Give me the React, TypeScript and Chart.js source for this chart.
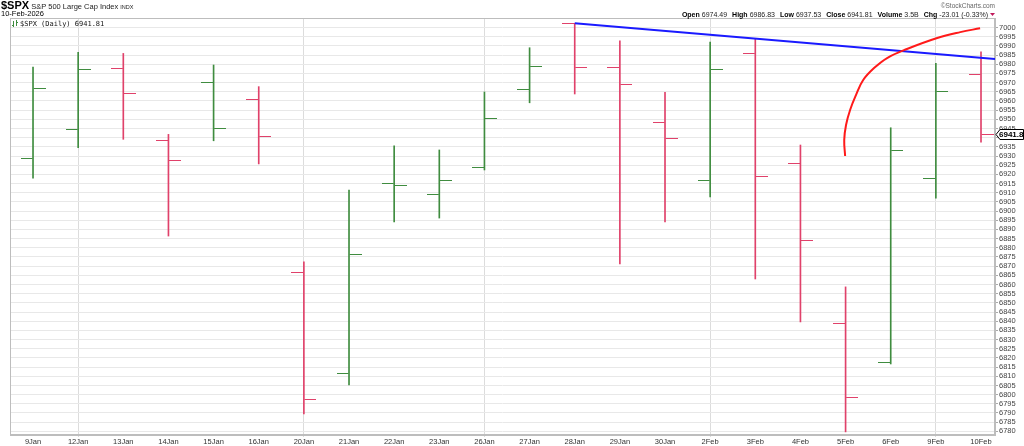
import React, { useEffect, useRef } from 'react';
import { Chart, registerables } from 'chart.js';

Chart.register(...registerables);

const dates = ['9Jan', '12Jan', '13Jan', '14Jan', '15Jan', '16Jan', '20Jan', '21Jan', '22Jan', '23Jan', '26Jan', '27Jan', '28Jan', '29Jan', '30Jan', '2Feb', '3Feb', '4Feb', '5Feb', '6Feb', '9Feb', '10Feb'];
const opens = [6928.8, 6944.6, 6977.8, 6938.3, 6969.9, 6960.9, 6866.8, 6811.3, 6915.3, 6908.8, 6924.0, 6966.3, 7002.0, 6978.3, 6948.0, 6916.9, 6985.6, 6925.7, 6838.5, 6817.3, 6917.9, 6974.49];
const highs = [6978.5, 6986.5, 6985.9, 6941.8, 6979.6, 6967.8, 6872.3, 6911.5, 6935.5, 6933.3, 6964.9, 6989.0, 7002.3, 6992.8, 6964.7, 6992.1, 6993.7, 6936.0, 6858.7, 6945.4, 6980.5, 6986.83];
const lows = [6918.0, 6934.5, 6939.1, 6886.4, 6938.3, 6925.7, 6789.5, 6805.3, 6894.1, 6896.2, 6922.4, 6959.0, 6963.8, 6871.2, 6894.1, 6907.7, 6863.0, 6839.6, 6779.7, 6816.7, 6907.0, 6937.53];
const closes = [6966.9, 6977.4, 6964.2, 6927.7, 6945.1, 6940.5, 6797.1, 6876.6, 6914.2, 6916.4, 6950.7, 6978.9, 6978.3, 6969.1, 6939.8, 6976.9, 6918.6, 6883.7, 6798.7, 6933.1, 6965.4, 6941.81];

const weekStarts = [1, 6, 10, 15, 20];
const yTicks = Array.from({ length: 45 }, (_, i) => 6780 + i * 5);

const trendX = [12, 21.31];
const trendY = [7002.3, 6982.8];

const arcX = [17.99, 17.97, 18.01, 18.1, 18.23, 18.39, 18.63, 18.92, 19.36, 20.03, 20.54, 20.98];
const arcY = [6930.0, 6938.7, 6946.9, 6955.1, 6963.2, 6971.4, 6977.9, 6983.4, 6988.3, 6994.3, 6997.5, 6999.6];

const lastPrice = 6941.81;
const headerSymbol = '$SPX';
const headerName = 'S&P 500 Large Cap Index';
const headerExchange = 'INDX';
const headerDate = '10-Feb-2026';
const headerLegend = '$SPX (Daily) 6941.81';
const headerCopyright = '\u00A9StockCharts.com';
const headerStats: [string, string][] = [
  ['Open', '6974.49'],
  ['High', '6986.83'],
  ['Low', '6937.53'],
  ['Close', '6941.81'],
  ['Volume', '3.5B'],
  ['Chg', '-23.01 (-0.33%)'],
];

const X_MIN = -0.51;
const X_MAX = 21.31;
const Y_MIN = 6778;
const Y_MAX = 7005.2;

const GREEN = '#3f8c3f';
const RED = '#e0416a';
const SANS = '"Liberation Sans", Arial, sans-serif';

function tickImage(color: string, left: boolean) {
  const c = document.createElement('canvas');
  c.width = 25;
  c.height = 1;
  const g = c.getContext('2d')!;
  g.fillStyle = color;
  if (left) g.fillRect(0, 0, 12, 1);
  else g.fillRect(13, 0, 12, 1);
  return c;
}

export default function App() {
  const ref = useRef<HTMLCanvasElement>(null);

  useEffect(() => {
    document.body.style.margin = '0';
    const canvas = ref.current!;
    const colors = closes.map((c, i) => (i === 0 || c >= closes[i - 1] ? GREEN : RED));
    const imgs: Record<string, { open: HTMLCanvasElement; close: HTMLCanvasElement }> = {
      [GREEN]: { open: tickImage(GREEN, true), close: tickImage(GREEN, false) },
      [RED]: { open: tickImage(RED, true), close: tickImage(RED, false) },
    };

    const overlay = {
      id: 'overlay',
      beforeDatasetsDraw(chart: any) {
        const { ctx, chartArea } = chart;
        ctx.save();
        ctx.strokeStyle = '#bdbdbd';
        ctx.lineWidth = 1;
        ctx.strokeRect(Math.round(chartArea.left) + 0.5, Math.round(chartArea.top) + 0.5, chartArea.right - chartArea.left - 1, chartArea.bottom - chartArea.top - 1);
        ctx.restore();
      },
      afterDraw(chart: any) {
        const { ctx, scales } = chart;
        ctx.save();
        ctx.textBaseline = 'alphabetic';
        ctx.fillStyle = '#000';
        // title
        ctx.font = `bold 11px ${SANS}`;
        ctx.fillText(headerSymbol, 1, 9);
        let x = 1 + ctx.measureText(headerSymbol).width + 2;
        ctx.font = `7.5px ${SANS}`;
        ctx.fillStyle = '#222';
        ctx.fillText(headerName, x, 9);
        x += ctx.measureText(headerName).width + 2;
        ctx.font = `5.5px ${SANS}`;
        ctx.fillText(headerExchange, x, 9);
        ctx.font = `7.5px ${SANS}`;
        ctx.fillStyle = '#000';
        ctx.fillText(headerDate, 1, 16);
        // legend in plot
        ctx.strokeStyle = GREEN;
        ctx.lineWidth = 1;
        ctx.beginPath();
        ctx.moveTo(13.5, 21); ctx.lineTo(13.5, 27);
        ctx.moveTo(12, 25.5); ctx.lineTo(13.5, 25.5);
        ctx.moveTo(16.5, 20); ctx.lineTo(16.5, 26);
        ctx.moveTo(16.5, 22.5); ctx.lineTo(18, 22.5);
        ctx.stroke();
        ctx.font = `7px "DejaVu Sans Mono", monospace`;
        ctx.fillStyle = '#111';
        ctx.fillText(headerLegend, 20, 26);
        // copyright
        ctx.font = `6.5px ${SANS}`;
        ctx.fillStyle = '#666';
        ctx.textAlign = 'right';
        ctx.fillText(headerCopyright, 995, 8);
        ctx.textAlign = 'left';
        // stats: lay out right-aligned ending before the arrow
        const parts: { t: string; bold: boolean; gap: number }[] = [];
        headerStats.forEach(([k, v]) => {
          parts.push({ t: k, bold: true, gap: 2 });
          parts.push({ t: v, bold: false, gap: 5 });
        });
        let total = 0;
        parts.forEach((p, i) => {
          ctx.font = `${p.bold ? 'bold ' : ''}7px ${SANS}`;
          total += ctx.measureText(p.t).width + (i < parts.length - 1 ? p.gap : 0);
        });
        let sx = 988 - total;
        parts.forEach((p) => {
          ctx.font = `${p.bold ? 'bold ' : ''}7px ${SANS}`;
          ctx.fillStyle = p.bold ? '#000' : '#222';
          ctx.fillText(p.t, sx, 17);
          sx += ctx.measureText(p.t).width + p.gap;
        });
        ctx.fillStyle = '#c0185a';
        ctx.beginPath();
        ctx.moveTo(990, 13);
        ctx.lineTo(995, 13);
        ctx.lineTo(992.5, 16);
        ctx.closePath();
        ctx.fill();
        // last price tag
        const y = Math.round(scales.y.getPixelForValue(lastPrice)) + 0.5;
        ctx.beginPath();
        ctx.moveTo(996, y);
        ctx.lineTo(1000, y - 5);
        ctx.lineTo(1023.5, y - 5);
        ctx.lineTo(1023.5, y + 5);
        ctx.lineTo(1000, y + 5);
        ctx.closePath();
        ctx.fillStyle = '#fff';
        ctx.fill();
        ctx.strokeStyle = '#000';
        ctx.lineWidth = 1;
        ctx.stroke();
        ctx.font = `bold 8px ${SANS}`;
        ctx.fillStyle = '#000';
        ctx.textBaseline = 'middle';
        ctx.fillText(lastPrice.toFixed(2), 999, y + 0.5);
        ctx.restore();
      },
    };

    const chart = new Chart(canvas, {
      type: 'bar',
      data: {
        datasets: [
          {
            type: 'bar',
            data: dates.map((_, i) => ({ x: i, y: [lows[i], highs[i]] })) as any,
            backgroundColor: colors,
            borderWidth: 0,
            barThickness: 1,
            grouped: false,
            order: 3,
          } as any,
          {
            type: 'line',
            data: dates.map((_, i) => ({ x: i, y: opens[i] })),
            showLine: false,
            pointStyle: colors.map((c) => imgs[c].open) as any,
            pointRadius: 6,
            order: 2,
          },
          {
            type: 'line',
            data: dates.map((_, i) => ({ x: i, y: closes[i] })),
            showLine: false,
            pointStyle: colors.map((c) => imgs[c].close) as any,
            pointRadius: 6,
            order: 2,
          },
          {
            type: 'line',
            data: trendX.map((x, i) => ({ x, y: trendY[i] })),
            borderColor: '#1a1aff',
            borderWidth: 2,
            pointRadius: 0,
            order: 1,
          },
          {
            type: 'line',
            data: arcX.map((x, i) => ({ x, y: arcY[i] })),
            borderColor: '#ff1a1a',
            borderWidth: 2,
            pointRadius: 0,
            tension: 0.4,
            order: 0,
          },
        ],
      },
      options: {
        responsive: false,
        animation: false,
        events: [],
        layout: { padding: { left: 10, top: 18, right: 0, bottom: 0 } },
        plugins: { legend: { display: false }, tooltip: { enabled: false } },
        scales: {
          x: {
            type: 'linear',
            offset: false,
            min: X_MIN,
            max: X_MAX,
            afterBuildTicks: (s: any) => {
              s.ticks = dates.map((_, i) => ({ value: i }));
            },
            afterFit: (s: any) => {
              s.height = 11;
            },
            ticks: {
              autoSkip: false,
              maxRotation: 0,
              padding: 1,
              color: '#333',
              font: { size: 7.5, family: SANS, lineHeight: 1 },
              callback: (v: any) => dates[v] ?? '',
            },
            grid: {
              offset: false,
              color: (c: any) => (c.tick && weekStarts.includes(c.tick.value) ? '#dcdcdc' : 'rgba(0,0,0,0)'),
              tickLength: 2,
            },
            border: { color: '#bdbdbd' },
          },
          y: {
            type: 'linear',
            position: 'right',
            min: Y_MIN,
            max: Y_MAX,
            afterBuildTicks: (s: any) => {
              s.ticks = yTicks.map((v) => ({ value: v }));
            },
            afterFit: (s: any) => {
              s.width = 29;
            },
            ticks: {
              autoSkip: false,
              padding: 1,
              color: '#444',
              font: { size: 7.5, family: SANS, lineHeight: 1 },
              callback: (v: any) => String(v),
            },
            grid: { color: '#e8e8e8', tickLength: 3, tickColor: '#aaa' },
            border: { color: '#bdbdbd' },
          },
        },
      },
      plugins: [overlay],
    } as any);

    return () => chart.destroy();
  }, []);

  return (
    <div style={{ width: 1024, height: 446, background: '#fff' }}>
      <canvas ref={ref} width={1024} height={446} style={{ display: 'block' }} />
    </div>
  );
}
